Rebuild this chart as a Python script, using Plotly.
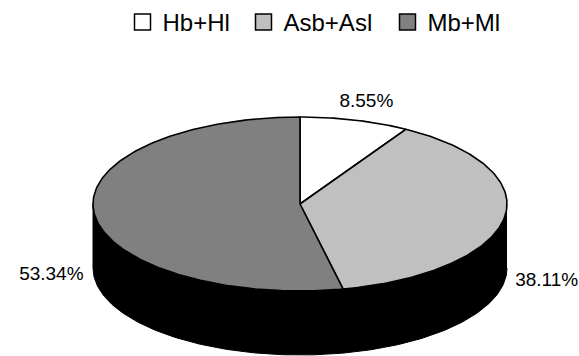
import numpy as np
import plotly.graph_objects as go

# ---- data ----
categories = ["Hb+Hl", "Asb+Asl", "Mb+Ml"]
percentages = [8.55, 38.11, 53.34]
colors = ["#ffffff", "#c0c0c0", "#808080"]
labels = ["8.55%", "38.11%", "53.34%"]

# ---- layout geometry (pixels) ----
W, H = 579, 356
cx, cy = 300, 204      # centre of the top face
a, b = 207, 87         # semi axes of the top face
depth = 64             # height of the pie's side wall
font = "Arial, Liberation Sans, sans-serif"
legend_x_px = [122.5, 243.5, 387.5]   # left edge of each legend entry


def ell(theta, dy=0.0, ra=a, rb=b):
    return cx + ra * np.sin(theta), cy - rb * np.cos(theta) + dy


fig = go.Figure()

# side wall (front half of the cylinder)
t = np.linspace(np.pi / 2, 3 * np.pi / 2, 200)
x1, y1 = ell(t)
x2, y2 = ell(t[::-1], depth)
fig.add_trace(go.Scatter(
    x=np.concatenate([x1, x2]), y=np.concatenate([y1, y2]),
    fill="toself", fillcolor="#000000", mode="lines",
    line=dict(color="#000000", width=1), showlegend=False, hoverinfo="skip"))

# top face slices, clockwise from 12 o'clock
total = sum(percentages)
start = 0.0
mids = []
for name, p, col in zip(categories, percentages, colors):
    th0 = 2 * np.pi * start / total
    th1 = 2 * np.pi * (start + p) / total
    tt = np.linspace(th0, th1, max(int(p * 4), 8))
    ex, ey = ell(tt)
    xs = np.concatenate([[cx], ex, [cx]])
    ys = np.concatenate([[cy], ey, [cy]])
    fig.add_trace(go.Scatter(
        x=xs, y=ys, fill="toself", fillcolor=col, mode="lines",
        line=dict(color="#000000", width=1.6), name=name, legendgroup=name,
        showlegend=False, hoverinfo="text", text=f"{name}: {p:.2f}%"))
    mids.append((th0 + th1) / 2)
    start += p

# legend entries (square swatches), one legend box per entry
legend_ids = ["legend", "legend2", "legend3"]
for name, col, lid in zip(categories, colors, legend_ids):
    fig.add_trace(go.Scatter(
        x=[None], y=[None], mode="markers", name=name, legendgroup=name,
        legend=lid,
        marker=dict(symbol="square", size=16, color=col,
                    line=dict(color="#000000", width=1.5))))

# percentage labels
lx, ly = [], []
for th in mids:
    x, y = ell(th, ra=250, rb=110)
    lx.append(x)
    ly.append(y + depth * 0.95 * np.sin(th) ** 2)
fig.add_trace(go.Scatter(
    x=lx, y=ly, mode="text", text=labels, textposition="middle center",
    textfont=dict(family=font, size=19, color="#000000"),
    showlegend=False, hoverinfo="skip"))

legend_common = dict(orientation="h", y=1.0, xanchor="left", yanchor="top",
                     font=dict(family=font, size=24, color="#000000"),
                     bgcolor="rgba(0,0,0,0)")
layout_legends = {}
for lid, px in zip(legend_ids, legend_x_px):
    layout_legends[lid] = dict(legend_common, x=px / W)

fig.update_layout(
    width=W, height=H, margin=dict(l=0, r=0, t=0, b=0),
    paper_bgcolor="#ffffff", plot_bgcolor="#ffffff",
    xaxis=dict(range=[0, W], visible=False, fixedrange=True),
    yaxis=dict(range=[H, 0], visible=False, fixedrange=True),
    **layout_legends,
)

fig.write_html("out.html")
